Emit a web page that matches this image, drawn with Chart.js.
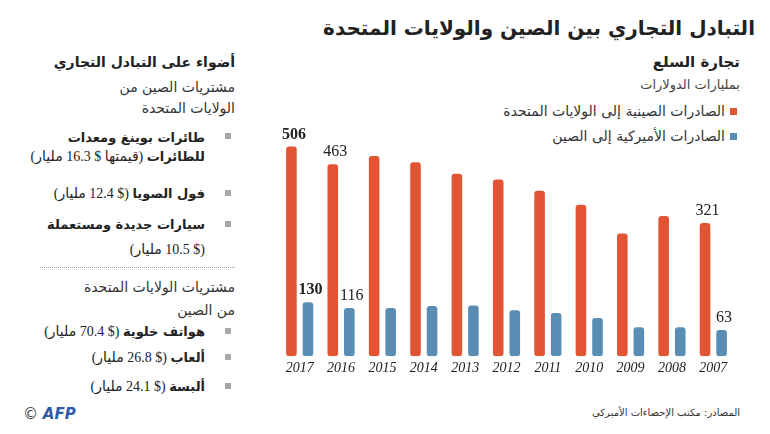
<!DOCTYPE html>
<html lang="ar">
<head>
<meta charset="utf-8">
<script src="https://cdn.jsdelivr.net/npm/chart.js@4/dist/chart.umd.min.js"></script>
<style>
  body { margin: 0; background: #fff; width: 770px; height: 434px; overflow: hidden; position: relative;
         font-family: "Liberation Serif", "DejaVu Sans", sans-serif; color: #222; }
  .t { position: absolute; direction: rtl; text-align: right; white-space: nowrap; }
  .ar { font-family: "DejaVu Sans", sans-serif; }
  #title { right: 15px; top: 13px; font-size: 20px; font-weight: bold; line-height: 30px; }
  #sub1 { right: 30px; top: 51px; font-size: 15px; font-weight: bold; line-height: 22px; }
  #sub2 { right: 30px; top: 75px; font-size: 13px; line-height: 20px; color: #444; }
  .leg { right: 45px; font-size: 14px; line-height: 20px; color: #333; }
  .sq { position: absolute; width: 7px; height: 7px; }
  .bul { position: absolute; width: 6px; height: 6px; background: #a8a8a8; }
  .side { right: 535px; font-size: 14px; line-height: 20px; color: #333; }
  .item { right: 565px; font-size: 14px; line-height: 20px; color: #222; }
  .item b { font-family: "DejaVu Sans", sans-serif; font-size: 13px; }
  #dots { position: absolute; left: 40px; width: 195px; top: 267px; border-top: 1px dotted #999; }
  #chartBox { position: absolute; left: 270px; top: 100px; width: 480px; height: 281px; }
  #afp { position: absolute; left: 23px; top: 405px; font-family: "DejaVu Sans", sans-serif; font-size: 15px; color: #444; }
  #afp span { color: #2d5aa8; font-weight: bold; font-style: italic; }
  #src { right: 30px; top: 404px; font-size: 10px; line-height: 18px; color: #333; }
</style>
</head>
<body>
<div class="t ar" id="title">التبادل التجاري بين الصين والولايات المتحدة</div>
<div class="t ar" id="sub1">تجارة السلع</div>
<div class="t ar" id="sub2">بمليارات الدولارات</div>
<div class="sq" style="left:730px;top:108px;background:#e15434"></div>
<div class="t ar leg" style="top:101px">الصادرات الصينية إلى الولايات المتحدة</div>
<div class="sq" style="left:730px;top:133px;background:#5a8db3"></div>
<div class="t ar leg" style="top:126px">الصادرات الأميركية إلى الصين</div>

<div class="t ar side" style="top:52px;font-weight:bold;font-size:14px;color:#222">أضواء على التبادل التجاري</div>
<div class="t ar side" style="top:77px">مشتريات الصين من</div>
<div class="t ar side" style="top:98px">الولايات المتحدة</div>

<div class="bul" style="left:225px;top:133px"></div>
<div class="t item" style="top:128px"><b>طائرات بوينغ ومعدات</b></div>
<div class="t item" style="top:147px"><b>للطائرات</b> (قيمتها $ 16.3 مليار)</div>
<div class="bul" style="left:225px;top:190px"></div>
<div class="t item" style="top:184px"><b>فول الصويا</b> ($ 12.4 مليار)</div>
<div class="bul" style="left:225px;top:221px"></div>
<div class="t item" style="top:215px"><b>سيارات جديدة ومستعملة</b></div>
<div class="t item" style="top:240px">($ 10.5 مليار)</div>
<div id="dots"></div>

<div class="t ar side" style="top:277px">مشتريات الولايات المتحدة</div>
<div class="t ar side" style="top:300px">من الصين</div>
<div class="bul" style="left:225px;top:328px"></div>
<div class="t item" style="top:322px"><b>هواتف خلوية</b> ($ 70.4 مليار)</div>
<div class="bul" style="left:225px;top:354px"></div>
<div class="t item" style="top:348px"><b>ألعاب</b> ($ 26.8 مليار)</div>
<div class="bul" style="left:225px;top:383px"></div>
<div class="t item" style="top:377px"><b>ألبسة</b> ($ 24.1 مليار)</div>

<div id="afp">© <span>AFP</span></div>
<div class="t ar" id="src">المصادر: مكتب الإحصاءات الأميركي</div>

<div id="chartBox"><canvas id="tradeChart"></canvas></div>

<script>
// Données (milliards de dollars), de 2017 à 2007
const years = ['2017', '2016', '2015', '2014', '2013', '2012', '2011', '2010', '2009', '2008', '2007'];
const chinaToUs = [506, 463, 483, 468, 440, 426, 399, 365, 296, 338, 321];
const usToChina = [130, 116, 116, 121, 122, 111, 104, 92, 70, 70, 63];
// années dont la valeur est affichée
const labelledYears = ['2017', '2016', '2007'];

const valueLabels = {
  id: 'valueLabels',
  afterDatasetsDraw(chart) {
    const ctx = chart.ctx;
    ctx.save();
    ctx.fillStyle = '#222';
    ctx.textAlign = 'center';
    ctx.textBaseline = 'middle';
    chart.data.datasets.forEach((ds, di) => {
      chart.getDatasetMeta(di).data.forEach((bar, i) => {
        const year = years[i];
        if (!labelledYears.includes(year)) return;
        ctx.font = (year === '2017' ? 'bold ' : '') + '16px "Liberation Serif", serif';
        ctx.fillText(ds.data[i], bar.x + 2.5, bar.y - 12);
      });
    });
    ctx.restore();
  }
};

const ctx = document.getElementById('tradeChart').getContext('2d');
new Chart(ctx, {
  type: 'bar',
  data: {
    labels: years,
    datasets: [{
      label: 'الصادرات الصينية إلى الولايات المتحدة',
      data: chinaToUs,
      backgroundColor: '#e15434'
    }, {
      label: 'الصادرات الأميركية إلى الصين',
      data: usToChina,
      backgroundColor: '#5a8db3'
    }]
  },
  options: {
    responsive: true,
    maintainAspectRatio: false,
    animation: false,
    datasets: {
      bar: {
        barPercentage: 0.64,
        categoryPercentage: 0.8,
        borderRadius: 3,
        borderSkipped: false
      }
    },
    layout: { padding: { left: 9, right: 16, top: 24, bottom: 0 } },
    plugins: {
      legend: { display: false },
      tooltip: { enabled: false }
    },
    scales: {
      x: {
        grid: { display: false, drawTicks: false },
        border: { display: false },
        ticks: {
          color: '#222',
          padding: 4,
          font: { family: '"Liberation Serif", serif', size: 14, style: 'italic' }
        }
      },
      y: {
        display: false,
        min: 0,
        max: 560
      }
    }
  },
  plugins: [valueLabels]
});
</script>
</body>
</html>
